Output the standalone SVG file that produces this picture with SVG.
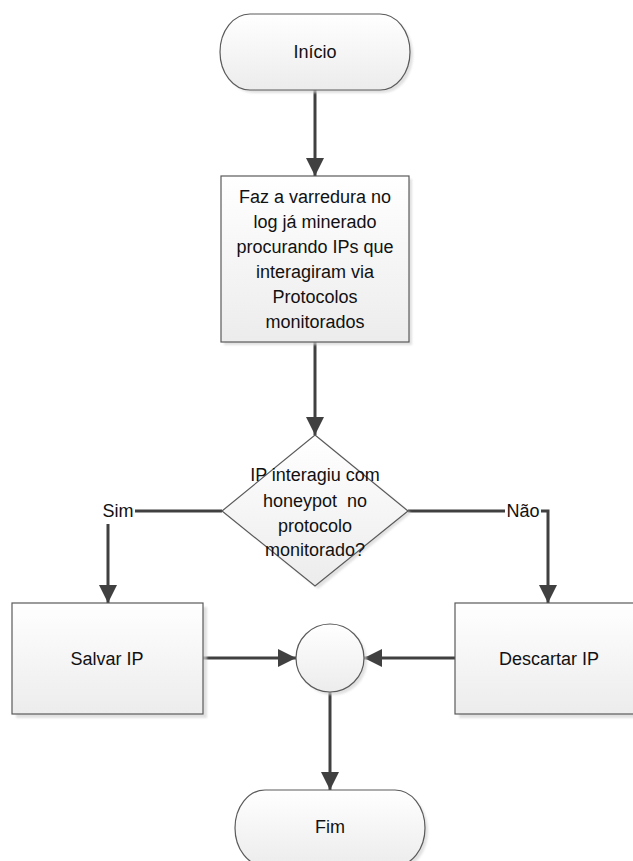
<svg xmlns="http://www.w3.org/2000/svg" width="633" height="861" viewBox="0 0 633 861">
  <style>
    .shape { fill: url(#fillGrad); stroke: #5a5a5a; stroke-width: 1.2; }
    .shadow { fill: #d4d4d4; opacity: 0.7; filter: url(#soft); }
    .label { font-family: "Liberation Sans", Arial, sans-serif; font-size: 18px; fill: #111; text-anchor: middle; dominant-baseline: central; }
    .conn { fill: none; stroke: #404040; stroke-width: 3; }
    .tag { fill: #ffffff; }
  </style>
  <defs>
    <linearGradient id="fillGrad" x1="0" y1="0" x2="0" y2="1">
      <stop offset="0" stop-color="#ffffff"/>
      <stop offset="1" stop-color="#ececec"/>
    </linearGradient>
    <filter id="soft" x="-10%" y="-10%" width="120%" height="120%">
      <feGaussianBlur stdDeviation="1.2"/>
    </filter>
    <marker id="arrow" viewBox="0 0 18 18" refX="18" refY="9" markerWidth="18" markerHeight="18" markerUnits="userSpaceOnUse" orient="auto">
      <path d="M0,0 L18,9 L0,18 Z" fill="#404040"/>
    </marker>
  </defs>

  <rect width="633" height="861" fill="#ffffff"/>

  <!-- connectors -->
  <g id="connectors">
    <line class="conn" x1="315" y1="90" x2="315" y2="176" marker-end="url(#arrow)"/>
    <line class="conn" x1="315" y1="342" x2="315" y2="435" marker-end="url(#arrow)"/>
    <polyline class="conn" points="222,511 108,511 108,603" marker-end="url(#arrow)"/>
    <polyline class="conn" points="408,511 548,511 548,603" marker-end="url(#arrow)"/>
    <line class="conn" x1="203" y1="658" x2="296" y2="658" marker-end="url(#arrow)"/>
    <line class="conn" x1="455" y1="658" x2="364" y2="658" marker-end="url(#arrow)"/>
    <line class="conn" x1="330" y1="692" x2="330" y2="790" marker-end="url(#arrow)"/>
    <rect class="tag" x="99" y="500" width="36" height="24"/>
    <text class="label" x="118" y="511">Sim</text>
    <rect class="tag" x="505" y="500" width="36" height="22"/>
    <text class="label" x="523" y="511">Não</text>
  </g>

  <!-- start terminator -->
  <g id="inicio">
    <path class="shadow" d="M253,17 H383 A30,38 0 0 1 383,93 H253 A30,38 0 0 1 253,17 Z"/>
    <path class="shape" d="M250,14 H380 A30,38 0 0 1 380,90 H250 A30,38 0 0 1 250,14 Z"/>
    <text class="label" x="315" y="52">Início</text>
  </g>

  <!-- scan step -->
  <g id="varredura">
    <rect class="shadow" x="224" y="179" width="188" height="166"/>
    <rect class="shape" x="221" y="176" width="188" height="166"/>
    <text class="label" x="315" y="197">Faz a varredura no</text>
    <text class="label" x="315" y="222">log já minerado</text>
    <text class="label" x="315" y="247">procurando IPs que</text>
    <text class="label" x="315" y="272">interagiram via</text>
    <text class="label" x="315" y="297">Protocolos</text>
    <text class="label" x="315" y="322">monitorados</text>
  </g>

  <!-- decision -->
  <g id="decisao">
    <polygon class="shadow" points="318,438 411,513 318,589 225,513"/>
    <polygon class="shape" points="315,435 408,511 315,586 222,511"/>
    <text class="label" x="315" y="475">IP interagiu com</text>
    <text class="label" x="315" y="501" xml:space="preserve">honeypot  no</text>
    <text class="label" x="315" y="526">protocolo</text>
    <text class="label" x="315" y="550">monitorado?</text>
  </g>

  <!-- save branch -->
  <g id="salvar">
    <rect class="shadow" x="16" y="607" width="191" height="111"/>
    <rect class="shape" x="12" y="603" width="191" height="111"/>
    <text class="label" x="107" y="659">Salvar IP</text>
  </g>

  <!-- discard branch -->
  <g id="descartar">
    <rect class="shadow" x="459" y="607" width="191" height="111"/>
    <rect class="shape" x="455" y="603" width="191" height="111"/>
    <text class="label" x="549" y="659">Descartar IP</text>
  </g>

  <!-- merge point -->
  <g id="juncao">
    <circle class="shadow" cx="333" cy="661" r="34"/>
    <circle class="shape" cx="330" cy="658" r="34"/>
  </g>

  <!-- end terminator -->
  <g id="fim">
    <path class="shadow" d="M268,793 H398 A30,38 0 0 1 398,869 H268 A30,38 0 0 1 268,793 Z"/>
    <path class="shape" d="M265,790 H395 A30,38 0 0 1 395,866 H265 A30,38 0 0 1 265,790 Z"/>
    <text class="label" x="330" y="827">Fim</text>
  </g>
</svg>
